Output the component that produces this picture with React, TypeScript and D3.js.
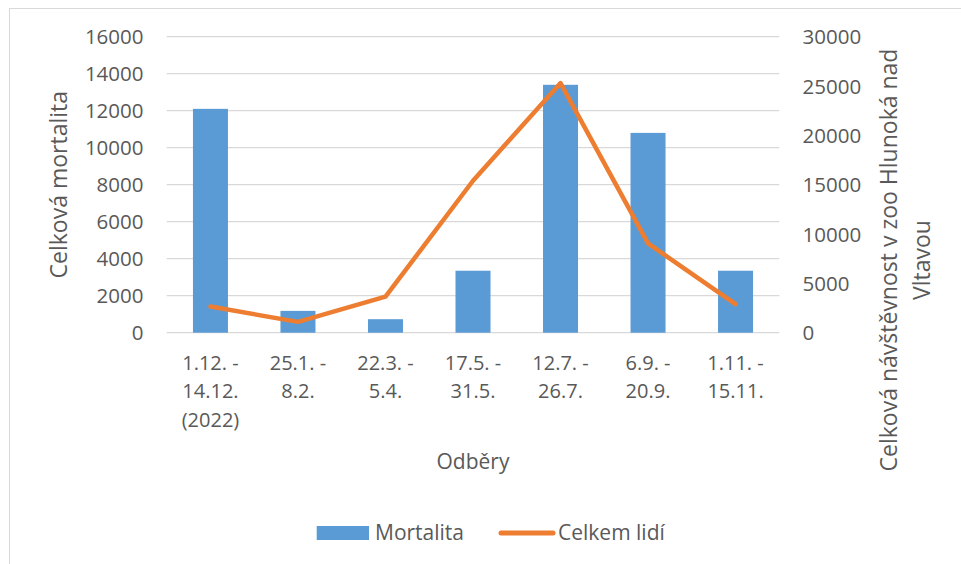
import React from "react";
import * as d3 from "d3";

const categories = ["1.12. - 14.12. (2022)", "25.1. - 8.2.", "22.3. - 5.4.", "17.5. - 31.5.", "12.7. - 26.7.", "6.9. - 20.9.", "1.11. - 15.11."];
const categoryLines = [
  ["1.12. -", "14.12.", "(2022)"],
  ["25.1. -", "8.2."],
  ["22.3. -", "5.4."],
  ["17.5. -", "31.5."],
  ["12.7. -", "26.7."],
  ["6.9. -", "20.9."],
  ["1.11. -", "15.11."],
];
const mortalita = [12100, 1180, 730, 3350, 13400, 10800, 3350];
const celkemLidi = [2650, 1100, 3650, 15400, 25300, 9050, 2900];

const W = 961;
const H = 564;
const plot = { left: 166.7, right: 779.3, top: 36.7, bottom: 332.7 };
const textColor = "#595959";
const tickFont = "'Open Sans', sans-serif";

function App() {
  const x = d3.scaleBand<string>().domain(categories).range([plot.left, plot.right]).padding(0);
  const yL = d3.scaleLinear().domain([0, 16000]).range([plot.bottom, plot.top]);
  const yR = d3.scaleLinear().domain([0, 30000]).range([plot.bottom, plot.top]);
  const barW = x.bandwidth() * 0.4;
  const cx = (i: number) => (x(categories[i]) as number) + x.bandwidth() / 2;

  const line = d3
    .line<number>()
    .x((_, i) => cx(i))
    .y((d) => yR(d));

  const midX = (plot.left + plot.right) / 2;
  const midY = (plot.top + plot.bottom) / 2;

  return (
    <svg width={W} height={H} style={{ position: "absolute", left: 0, top: 0 }}>
      <rect x={0} y={0} width={W} height={H} fill="#fff" />
      <rect x={9.5} y={8.5} width={1200} height={1200} fill="none" stroke="#d9d9d9" strokeWidth={1} />

      {yL.ticks(8).map((t) => (
        <line key={"g" + t} x1={plot.left} x2={plot.right} y1={yL(t)} y2={yL(t)} stroke="#d9d9d9" strokeWidth={1.3} />
      ))}

      {yL.ticks(8).map((t) => (
        <text key={"l" + t} x={143.5} y={yL(t) + 7.5} textAnchor="end" fontFamily={tickFont} fontSize={20.5} fill={textColor}>
          {t}
        </text>
      ))}
      {yR.ticks(6).map((t) => (
        <text key={"r" + t} x={802.5} y={yR(t) + 7.5} textAnchor="start" fontFamily={tickFont} fontSize={20.5} fill={textColor}>
          {t}
        </text>
      ))}

      {mortalita.map((v, i) => (
        <rect key={"b" + i} x={cx(i) - barW / 2} y={yL(v)} width={barW} height={yL(0) - yL(v)} fill="#5b9bd5" />
      ))}

      <path d={line(celkemLidi) as string} fill="none" stroke="#ed7d31" strokeWidth={4.5} strokeLinejoin="round" strokeLinecap="round" />

      {categoryLines.map((lines, i) => (
        <text key={"c" + i} textAnchor="middle" fontFamily={tickFont} fontSize={20} fill={textColor}>
          {lines.map((s, j) => (
            <tspan key={j} x={cx(i)} y={369.5 + j * 28.5}>
              {s}
            </tspan>
          ))}
        </text>
      ))}

      <text x={midX} y={468.5} textAnchor="middle" fontFamily={tickFont} fontSize={21} fill={textColor}>
        Odběry
      </text>

      <text transform={`translate(67,${midY}) rotate(-90)`} textAnchor="middle" fontFamily={tickFont} fontSize={23} fill={textColor}>
        Celková mortalita
      </text>
      <text transform={`translate(897,260) rotate(-90)`} textAnchor="middle" fontFamily={tickFont} fontSize={23} fill={textColor}>
        Celková návštěvnost v zoo Hlunoká nad
      </text>
      <text transform={`translate(930,260) rotate(-90)`} textAnchor="middle" fontFamily={tickFont} fontSize={23} fill={textColor}>
        Vltavou
      </text>

      <rect x={316.7} y={526} width={52.3} height={14} fill="#5b9bd5" />
      <text x={375} y={540} fontFamily={tickFont} fontSize={21} fill={textColor}>
        Mortalita
      </text>
      <line x1={501} x2={553} y1={533} y2={533} stroke="#ed7d31" strokeWidth={5} strokeLinecap="round" />
      <text x={558} y={540} fontFamily={tickFont} fontSize={21} fill={textColor}>
        Celkem lidí
      </text>
    </svg>
  );
}

export default App;
